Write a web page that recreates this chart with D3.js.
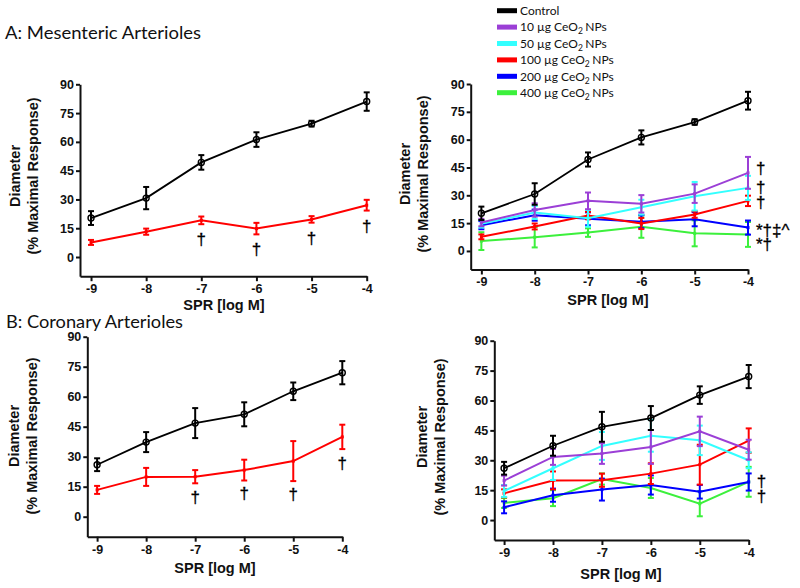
<!DOCTYPE html>
<html><head><meta charset="utf-8">
<script src="https://cdn.jsdelivr.net/npm/d3@7"></script>
<style>body{margin:0;background:#fff} svg{display:block}</style>
</head><body>
<script>
// ---------- data ----------
const doses = [-9, -8, -7, -6, -5, -4];
const xTicks = [-9, -8, -7, -6, -5, -4];
const yTicks = [0, 15, 30, 45, 60, 75, 90];
const legendDoses = ["", "10", "50", "100", "200", "400"];
const seriesColors = ["#000000", "#9b3fd6", "#33ffff", "#ff0000", "#0000ff", "#3cf03c"];

// Mesenteric arterioles (mean, SEM)
const mesControl = [20.3, 30.7, 49.3, 61.2, 69.5, 81.0];
const mesControlErr = [3.6, 5.8, 3.8, 3.8, 1.5, 4.8];
const mes10 = [15.3, 22.1, 27.0, 25.4, 30.9, 42.1];
const mes10Err = [2.0, 3.6, 4.5, 4.7, 5.0, 8.6];
const mes50 = [14.6, 20.7, 17.6, 23.6, 29.5, 34.0];
const mes50Err = [2.0, 3.5, 4.5, 4.0, 7.7, 6.5];
const mes100 = [7.6, 13.2, 19.1, 14.8, 19.6, 27.0];
const mes100Err = [1.3, 1.6, 2.0, 3.0, 1.7, 2.8];
const mes200 = [13.9, 19.3, 17.3, 15.8, 17.1, 12.6];
const mes200Err = [2.2, 3.0, 3.5, 3.5, 3.8, 3.8];
const mes400 = [5.3, 7.4, 9.9, 13.1, 9.5, 8.9];
const mes400Err = [4.8, 5.5, 2.3, 6.0, 7.0, 6.7];

// Coronary arterioles (mean, SEM)
const corControl = [26.0, 37.3, 46.8, 51.2, 62.7, 72.0];
const corControlErr = [3.2, 5.0, 7.5, 6.0, 4.4, 5.8];
const cor10 = [19.8, 31.7, 33.4, 36.7, 44.5, 35.3];
const cor10Err = [2.5, 4.0, 5.2, 8.5, 7.4, 5.0];
const cor50 = [14.6, 26.0, 37.2, 42.3, 40.0, 30.0];
const cor50Err = [3.0, 5.9, 7.0, 8.0, 7.4, 4.0];
const cor100 = [13.4, 19.9, 20.0, 23.3, 27.8, 39.9];
const cor100Err = [2.0, 4.5, 3.3, 5.2, 10.0, 6.1];
const cor200 = [6.4, 12.5, 15.3, 17.6, 14.2, 19.1];
const cor200Err = [3.0, 3.3, 5.5, 4.8, 3.4, 4.3];
const cor400 = [8.6, 11.0, 20.6, 16.1, 8.2, 19.2];
const cor400Err = [2.5, 4.0, 2.8, 5.0, 6.3, 7.5];

// significance marks
const mesLeftMarkDose = [-7, -6, -5, -4];
const mesLeftMarkY = [9.4, 4.2, 9.9, 16.2];
const mesRightMarkText = ["†", "†", "†", "*†‡^", "*†"];
const mesRightMarkY = [44.7, 34.4, 26.1, 11.0, 3.8];
const corLeftMarkDose = [-7, -6, -5, -4];
const corLeftMarkY = [9.7, 12.0, 11.4, 26.7];
const corRightMarkText = ["†", "†"];
const corRightMarkY = [19.7, 12.2];

// ---------- drawing ----------
const W = 800, H = 588;
const svg = d3.select("body").append("svg").attr("width", W).attr("height", H);
const sansBold = "'Liberation Sans', Arial, sans-serif";
const humanist = "Lato, 'Open Sans', sans-serif";

function panel(cfg) {
  const x = d3.scaleLinear().domain([-9.2, -4]).range([cfg.left, cfg.right]);
  const y = d3.scaleLinear().domain([-10, 90]).range([cfg.bottom, cfg.top]);
  const g = svg.append("g");

  const xa = g.append("g").attr("transform", `translate(0,${cfg.bottom})`)
    .call(d3.axisBottom(x).tickValues(xTicks).tickSize(5).tickSizeOuter(0).tickPadding(3).tickFormat(d => String(d)));
  const ya = g.append("g").attr("transform", `translate(${cfg.left},0)`)
    .call(d3.axisLeft(y).tickValues(yTicks).tickSize(4).tickSizeOuter(0).tickPadding(2).tickFormat(d => String(d)));
  [xa, ya].forEach(a => {
    a.select(".domain").attr("stroke", "#111").attr("stroke-width", 2);
    a.selectAll(".tick line").attr("stroke", "#111").attr("stroke-width", 2);
    a.selectAll(".tick text").attr("font-family", sansBold).attr("font-weight", "bold")
      .attr("font-size", 12.5).attr("fill", "#111");
  });

  // axis titles
  g.append("text").attr("x", cfg.xLabelX).attr("y", cfg.xLabelY).attr("text-anchor", "middle")
    .attr("font-family", sansBold).attr("font-weight", "bold").attr("font-size", 14.5).attr("fill", "#111")
    .text("SPR [log M]");
  const yl = g.append("g").attr("transform", `translate(${cfg.yLabelX},${cfg.yLabelY}) rotate(-90)`);
  yl.append("text").attr("x", 0).attr("y", 0).attr("text-anchor", "middle").attr("dy", "0.35em")
    .attr("font-family", sansBold).attr("font-weight", "bold").attr("font-size", 14.5).attr("fill", "#111")
    .text("Diameter");
  yl.append("text").attr("x", 0).attr("y", 17.5).attr("text-anchor", "middle").attr("dy", "0.35em")
    .attr("font-family", sansBold).attr("font-weight", "bold").attr("font-size", 14.5).attr("fill", "#111")
    .text("(% Maximal Response)");

  const line = d3.line().x(d => x(d.dose)).y(d => y(d.v));
  cfg.series.forEach(s => {
    const pts = doses.map((d, i) => ({dose: d, v: s.values[i], e: s.errs[i]}));
    const sg = g.append("g");
    pts.forEach(p => {
      sg.append("line").attr("x1", x(p.dose)).attr("x2", x(p.dose))
        .attr("y1", y(p.v - p.e)).attr("y2", y(p.v + p.e))
        .attr("stroke", s.color).attr("stroke-width", 2);
      [p.v - p.e, p.v + p.e].forEach(v => {
        sg.append("line").attr("x1", x(p.dose) - 3).attr("x2", x(p.dose) + 3)
          .attr("y1", y(v)).attr("y2", y(v)).attr("stroke", s.color).attr("stroke-width", 2);
      });
    });
    sg.append("path").datum(pts).attr("d", line).attr("fill", "none")
      .attr("stroke", s.color).attr("stroke-width", s.control ? 1.8 : 2);
    if (s.control) {
      sg.selectAll("circle").data(pts).join("circle")
        .attr("cx", p => x(p.dose)).attr("cy", p => y(p.v)).attr("r", 3)
        .attr("fill", "none").attr("stroke", "#000").attr("stroke-width", 1.4);
    } else {
      sg.selectAll("rect.m").data(pts).join("rect").attr("class", "m")
        .attr("x", p => x(p.dose) - 1.5).attr("y", p => y(p.v) - 1.5)
        .attr("width", 3).attr("height", 3).attr("fill", s.color);
    }
  });

  // significance marks
  cfg.marks.forEach(m => {
    const mx = m.dose !== undefined ? x(m.dose) : x(-4) + 8;
    g.append("text").attr("x", mx).attr("y", y(m.v)).attr("dy", "0.35em")
      .attr("text-anchor", m.dose !== undefined ? "middle" : "start")
      .attr("font-family", "'Liberation Sans', Arial, sans-serif").attr("font-size", 17)
      .attr("fill", "#000").attr("stroke", "#000").attr("stroke-width", 0.3)
      .text(m.t);
  });
  return {x, y};
}

function ser(values, errs, idx) {
  return {values, errs, color: seriesColors[idx], control: idx === 0};
}

// Titles
svg.append("text").attr("x", 5).attr("y", 39).attr("font-family", humanist).attr("font-size", 16.5)
  .attr("fill", "#111").attr("textLength", 196).attr("lengthAdjust", "spacingAndGlyphs")
  .text("A: Mesenteric Arterioles");
svg.append("text").attr("x", 6).attr("y", 327.5).attr("font-family", humanist).attr("font-size", 16.5)
  .attr("fill", "#111").attr("textLength", 177).attr("lengthAdjust", "spacingAndGlyphs")
  .text("B: Coronary Arterioles");

// A left
panel({left: 80, right: 366.7, top: 84.3, bottom: 276.2,
  xLabelX: 224, xLabelY: 310, yLabelX: 15, yLabelY: 176,
  series: [ser(mes100, mes100Err, 3), ser(mesControl, mesControlErr, 0)],
  marks: mesLeftMarkDose.map((d, i) => ({dose: d, v: mesLeftMarkY[i], t: "†"}))});

// A right
panel({left: 470.7, right: 748, top: 84, bottom: 269.5,
  xLabelX: 608, xLabelY: 305, yLabelX: 405, yLabelY: 174,
  series: [ser(mes400, mes400Err, 5), ser(mes200, mes200Err, 4), ser(mes100, mes100Err, 3),
           ser(mes50, mes50Err, 2), ser(mes10, mes10Err, 1), ser(mesControl, mesControlErr, 0)],
  marks: mesRightMarkText.map((t, i) => ({v: mesRightMarkY[i], t}))});

// B left
panel({left: 87.3, right: 342.3, top: 336.7, bottom: 536.7,
  xLabelX: 215, xLabelY: 573, yLabelX: 14, yLabelY: 436,
  series: [ser(cor100, cor100Err, 3), ser(corControl, corControlErr, 0)],
  marks: corLeftMarkDose.map((d, i) => ({dose: d, v: corLeftMarkY[i], t: "†"}))});

// B right
panel({left: 494.3, right: 748.7, top: 340.7, bottom: 540,
  xLabelX: 621, xLabelY: 579, yLabelX: 422, yLabelY: 437,
  series: [ser(cor400, cor400Err, 5), ser(cor200, cor200Err, 4), ser(cor100, cor100Err, 3),
           ser(cor50, cor50Err, 2), ser(cor10, cor10Err, 1), ser(corControl, corControlErr, 0)],
  marks: corRightMarkText.map((t, i) => ({v: corRightMarkY[i], t}))});

// Legend
const lg = svg.append("g");
legendDoses.forEach((d, i) => {
  const cy = 10.7 + i * 16.4;
  lg.append("rect").attr("x", 497).attr("y", cy - 2.5).attr("width", 20).attr("height", 5)
    .attr("fill", seriesColors[i]);
  const t = lg.append("text").attr("x", 520).attr("y", cy).attr("dy", "0.35em")
    .attr("font-family", humanist).attr("font-size", 12).attr("fill", "#111");
  if (i === 0) { t.text("Control"); }
  else {
    t.append("tspan").text(d + " µg CeO");
    t.append("tspan").attr("font-size", 8.5).attr("dy", 3).text("2");
    t.append("tspan").attr("dy", -3).attr("dx", 2.5).text("NPs");
  }
});
</script>
</body></html>
